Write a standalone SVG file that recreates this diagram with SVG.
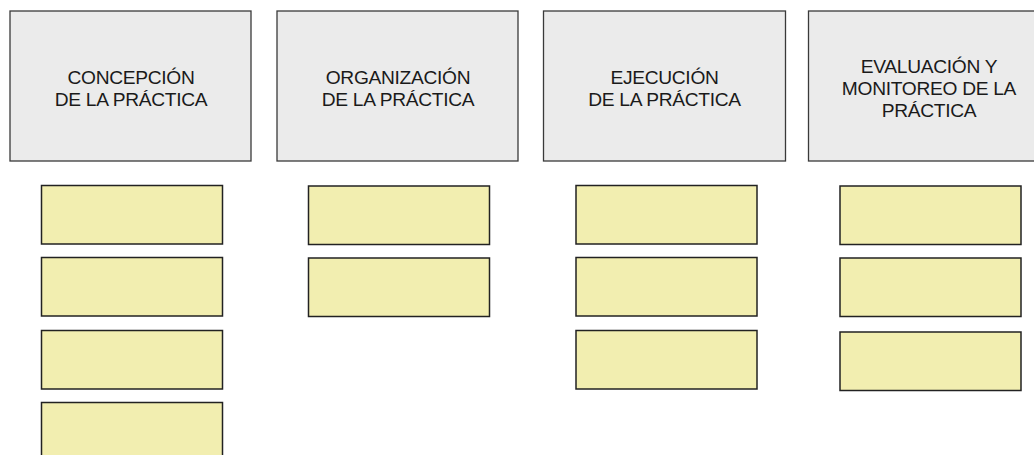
<svg xmlns="http://www.w3.org/2000/svg" width="1034" height="455" viewBox="0 0 1034 455">
<style>
.h{fill:#ebebeb;stroke:#3a3a3a;stroke-width:1.3}
.y{fill:#f2eeb0;stroke:#222;stroke-width:1.5}
.t{font-family:"Liberation Sans",Arial,sans-serif;font-size:19.2px;letter-spacing:-0.3px;fill:#1a1a1a;text-anchor:middle}
</style>
<rect width="1034" height="455" fill="#fff"/>
<g id="connectors"></g>
<g id="h1"><rect class="h" x="10" y="11" width="241" height="150"/>
<text class="t" x="131" y="84">CONCEPCIÓN</text><text class="t" x="131" y="105.7">DE LA PRÁCTICA</text></g>
<g id="h2"><rect class="h" x="277" y="11" width="241" height="150"/>
<text class="t" x="398" y="84">ORGANIZACIÓN</text><text class="t" x="398" y="105.7">DE LA PRÁCTICA</text></g>
<g id="h3"><rect class="h" x="543.5" y="11" width="242" height="150"/>
<text class="t" x="664.5" y="84">EJECUCIÓN</text><text class="t" x="664.5" y="105.7">DE LA PRÁCTICA</text></g>
<g id="h4"><rect class="h" x="808.5" y="11" width="241" height="150"/>
<text class="t" x="929" y="73.3">EVALUACIÓN Y</text><text class="t" x="929" y="95.3">MONITOREO DE LA</text><text class="t" x="929" y="117">PRÁCTICA</text></g>
<g id="c1a"><rect class="y" x="41.5" y="185.5" width="181" height="58.5"/></g>
<g id="c1b"><rect class="y" x="41.5" y="257.5" width="181" height="58.5"/></g>
<g id="c1c"><rect class="y" x="41.5" y="330.5" width="181" height="58.5"/></g>
<g id="c1d"><rect class="y" x="41.5" y="402.5" width="181" height="58.5"/></g>
<g id="c2a"><rect class="y" x="308.5" y="186" width="181" height="58.5"/></g>
<g id="c2b"><rect class="y" x="308.5" y="258" width="181" height="58.5"/></g>
<g id="c3a"><rect class="y" x="576" y="185.5" width="181" height="58.5"/></g>
<g id="c3b"><rect class="y" x="576" y="257.5" width="181" height="58.5"/></g>
<g id="c3c"><rect class="y" x="576" y="330.5" width="181" height="58.5"/></g>
<g id="c4a"><rect class="y" x="840" y="186" width="181" height="58.5"/></g>
<g id="c4b"><rect class="y" x="840" y="258" width="181" height="58.5"/></g>
<g id="c4c"><rect class="y" x="840" y="332" width="181" height="58.5"/></g>
</svg>
